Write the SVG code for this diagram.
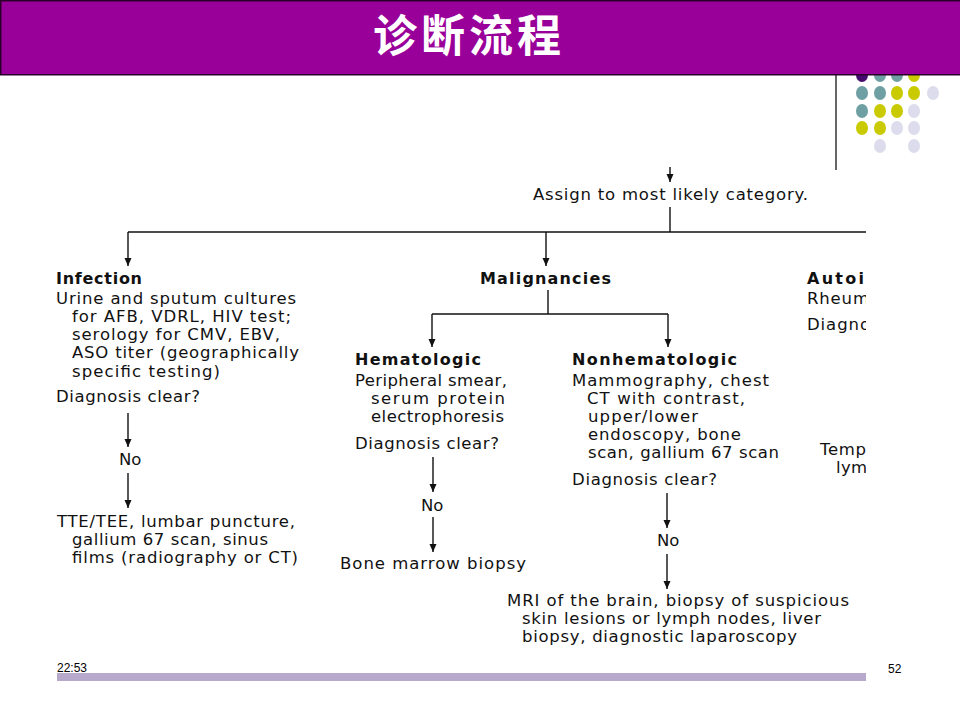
<svg xmlns="http://www.w3.org/2000/svg" width="960" height="720" viewBox="0 0 960 720">
<defs>
<style>
.t{font-family:"DejaVu Sans","Noto Sans",sans-serif;font-size:16.5px;fill:#111;}
.b{font-family:"DejaVu Sans","Noto Sans",sans-serif;font-size:16px;font-weight:bold;fill:#111;}
.ln{stroke:#111;stroke-width:1.4;fill:none;}
.ar{stroke:#111;stroke-width:1.4;fill:none;marker-end:url(#ah);}
.teal{fill:#6E9FA2;}
.yel{fill:#CACA00;}
.lav{fill:#DCDCEC;}
.dk{fill:#440A6E;}
.foot{font-family:"Liberation Sans",Arial,sans-serif;font-size:12px;fill:#000;}
</style>
<marker id="ah" viewBox="0 0 8 8" refX="8" refY="4" markerWidth="8" markerHeight="8" markerUnits="userSpaceOnUse" orient="auto">
<path d="M0,0.5 L8,4 L0,7.5 z" fill="#111"/>
</marker>
<clipPath id="cut"><rect x="0" y="0" width="866" height="720"/></clipPath>
</defs>
<rect width="960" height="720" fill="#fff"/>

<g id="decor-dots">
<ellipse class="dk" cx="862" cy="75" rx="6" ry="7"/>
<ellipse class="teal" cx="880" cy="75" rx="6" ry="7"/>
<ellipse class="teal" cx="897" cy="75" rx="6" ry="7"/>
<ellipse class="yel" cx="914" cy="75" rx="6" ry="7"/>
<ellipse class="teal" cx="862" cy="93" rx="6" ry="7"/>
<ellipse class="teal" cx="880" cy="93" rx="6" ry="7"/>
<ellipse class="yel" cx="897" cy="93" rx="6" ry="7"/>
<ellipse class="yel" cx="914" cy="93" rx="6" ry="7"/>
<ellipse class="lav" cx="933" cy="93" rx="6" ry="7"/>
<ellipse class="teal" cx="862" cy="111" rx="6" ry="7"/>
<ellipse class="yel" cx="880" cy="111" rx="6" ry="7"/>
<ellipse class="yel" cx="897" cy="111" rx="6" ry="7"/>
<ellipse class="lav" cx="914" cy="111" rx="6" ry="7"/>
<ellipse class="yel" cx="862" cy="128" rx="6" ry="7"/>
<ellipse class="yel" cx="880" cy="128" rx="6" ry="7"/>
<ellipse class="lav" cx="897" cy="128" rx="6" ry="7"/>
<ellipse class="lav" cx="914" cy="128" rx="6" ry="7"/>
<ellipse class="lav" cx="880" cy="146" rx="6" ry="7"/>
<ellipse class="lav" cx="914" cy="146" rx="6" ry="7"/>
<line x1="836" y1="75" x2="836" y2="170" stroke="#000" stroke-width="1.2"/>
</g>

<g id="title">
<rect x="0.75" y="0.75" width="962" height="74" fill="#990099" stroke="#2A002A" stroke-width="1.5"/>
<text x="467" y="52" text-anchor="middle" textLength="188" font-family="'Noto Sans CJK SC','Noto Sans CJK TC',sans-serif" font-size="44" font-weight="bold" fill="#fff">诊断流程</text>
</g>

<g id="connectors">
<line class="ar" x1="670" y1="167" x2="670" y2="182"/>
<line class="ln" x1="670" y1="207" x2="670" y2="232"/>
<line class="ln" x1="128" y1="232" x2="866" y2="232"/>
<line class="ar" x1="128" y1="232" x2="128" y2="266"/>
<line class="ar" x1="546" y1="232" x2="546" y2="266"/>
<line class="ln" x1="548" y1="290" x2="548" y2="314"/>
<line class="ln" x1="432" y1="314" x2="668" y2="314"/>
<line class="ar" x1="432" y1="314" x2="432" y2="347"/>
<line class="ar" x1="668" y1="314" x2="668" y2="347"/>
<line class="ar" x1="128" y1="413" x2="128" y2="447"/>
<line class="ar" x1="128" y1="473" x2="128" y2="508"/>
<line class="ar" x1="433" y1="457" x2="433" y2="492"/>
<line class="ar" x1="433" y1="517" x2="433" y2="552"/>
<line class="ar" x1="667" y1="493" x2="667" y2="528"/>
<line class="ar" x1="667" y1="554" x2="667" y2="589"/>
</g>

<g id="assign">
<text class="t" x="533" y="200" textLength="275">Assign to most likely category.</text>
</g>

<g id="infection">
<text class="b" x="56" y="284" textLength="86">Infection</text>
<text class="t" x="56" y="304" textLength="240">Urine and sputum cultures</text>
<text class="t" x="72" y="322" textLength="219">for AFB, VDRL, HIV test;</text>
<text class="t" x="72" y="340" textLength="208">serology for CMV, EBV,</text>
<text class="t" x="72" y="358" textLength="227">ASO titer (geographically</text>
<text class="t" x="72" y="377" textLength="148">specific testing)</text>
<text class="t" x="56" y="402" textLength="144">Diagnosis clear?</text>
</g>
<g id="infection-no">
<text class="t" x="119" y="465">No</text>
</g>
<g id="infection-next">
<text class="t" x="57" y="527" textLength="238">TTE/TEE, lumbar puncture,</text>
<text class="t" x="72" y="545" textLength="196">gallium 67 scan, sinus</text>
<text class="t" x="72" y="563" textLength="226">films (radiography or CT)</text>
</g>

<g id="malignancies">
<text class="b" x="480" y="284" textLength="131">Malignancies</text>
</g>

<g id="hematologic">
<text class="b" x="355" y="365" textLength="126">Hematologic</text>
<text class="t" x="355" y="386" textLength="152">Peripheral smear,</text>
<text class="t" x="371" y="404" textLength="134">serum protein</text>
<text class="t" x="371" y="422" textLength="133">electrophoresis</text>
<text class="t" x="355" y="449" textLength="144">Diagnosis clear?</text>
</g>
<g id="hematologic-no">
<text class="t" x="421" y="511">No</text>
</g>
<g id="hematologic-next">
<text class="t" x="340" y="569" textLength="186">Bone marrow biopsy</text>
</g>

<g id="nonhematologic">
<text class="b" x="572" y="365" textLength="165">Nonhematologic</text>
<text class="t" x="572" y="386" textLength="197">Mammography, chest</text>
<text class="t" x="587" y="404" textLength="158">CT with contrast,</text>
<text class="t" x="588" y="422" textLength="110">upper/lower</text>
<text class="t" x="588" y="440" textLength="153">endoscopy, bone</text>
<text class="t" x="588" y="458" textLength="191">scan, gallium 67 scan</text>
<text class="t" x="572" y="485" textLength="145">Diagnosis clear?</text>
</g>
<g id="nonhematologic-no">
<text class="t" x="657" y="546">No</text>
</g>
<g id="nonhematologic-next">
<text class="t" x="507" y="606" textLength="342">MRI of the brain, biopsy of suspicious</text>
<text class="t" x="522" y="624" textLength="299">skin lesions or lymph nodes, liver</text>
<text class="t" x="522" y="642" textLength="275">biopsy, diagnostic laparoscopy</text>
</g>

<g id="autoimmune" clip-path="url(#cut)">
<text class="b" x="807" y="284" textLength="57">Autoi</text>
<text class="t" x="807" y="304" textLength="62">Rheum</text>
<text class="t" x="807" y="330" textLength="63">Diagno</text>
<text class="t" x="820" y="455" textLength="46">Temp</text>
<text class="t" x="836" y="473" textLength="31">lym</text>
</g>

<g id="footer">
<rect x="57" y="673" width="809" height="8" fill="#B6A9CC"/>
<text class="foot" x="57" y="672">22:53</text>
<text class="foot" x="888" y="673">52</text>
</g>
</svg>
